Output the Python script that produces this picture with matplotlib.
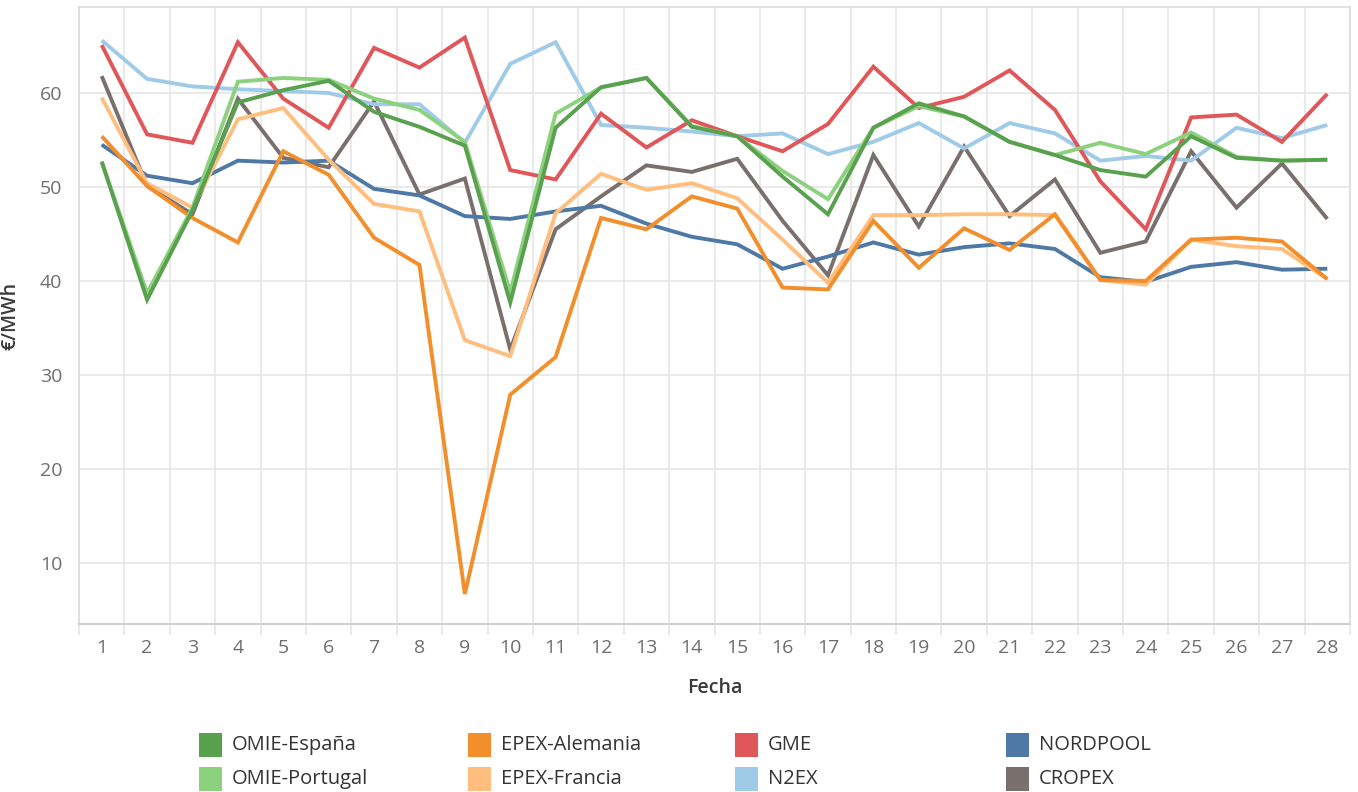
import matplotlib
matplotlib.use("Agg")
import matplotlib.pyplot as plt
from matplotlib.patches import Rectangle
import numpy as np

plt.rcParams['font.family'] = ['Open Sans', 'DejaVu Sans']

dias = list(range(1, 29))

omie_espana = [52.7, 38.0, 47.5, 59.0, 60.3, 61.3, 58.0, 56.4, 54.4, 37.7,
               56.3, 60.6, 61.6, 56.4, 55.4, 51.1, 47.1, 56.3, 58.9, 57.5,
               54.8, 53.4, 51.8, 51.1, 55.4, 53.1, 52.8, 52.9]
omie_portugal = [52.7, 38.7, 47.8, 61.2, 61.6, 61.4, 59.4, 58.2, 54.8, 38.8,
                 57.8, 60.6, 61.6, 56.5, 55.4, 51.7, 48.7, 56.3, 58.6, 57.5,
                 54.8, 53.4, 54.7, 53.5, 55.8, 53.2, 52.8, 52.9]
epex_alemania = [55.4, 50.1, 46.7, 44.1, 53.8, 51.3, 44.6, 41.7, 6.7, 27.9,
                 31.9, 46.7, 45.5, 49.0, 47.7, 39.3, 39.1, 46.4, 41.4, 45.6,
                 43.3, 47.1, 40.1, 40.0, 44.4, 44.6, 44.2, 40.2]
epex_francia = [59.5, 50.4, 47.8, 57.2, 58.4, 52.9, 48.2, 47.4, 33.7, 32.0,
                47.2, 51.4, 49.7, 50.4, 48.8, 44.4, 39.8, 47.0, 47.0, 47.1,
                47.1, 47.0, 40.1, 39.6, 44.4, 43.7, 43.4, 40.2]
gme = [65.1, 55.6, 54.7, 65.4, 59.4, 56.3, 64.8, 62.7, 65.9, 51.8,
       50.8, 57.8, 54.2, 57.1, 55.4, 53.8, 56.7, 62.8, 58.4, 59.6,
       62.4, 58.2, 50.6, 45.5, 57.4, 57.7, 54.8, 59.9]
n2ex = [65.6, 61.5, 60.7, 60.4, 60.2, 60.0, 58.8, 58.8, 54.7, 63.1,
        65.4, 56.6, 56.3, 55.9, 55.4, 55.7, 53.5, 54.8, 56.8, 54.1,
        56.8, 55.7, 52.8, 53.3, 52.8, 56.3, 55.2, 56.6]
nordpool = [54.5, 51.2, 50.4, 52.8, 52.6, 52.8, 49.8, 49.1, 46.9, 46.6,
            47.4, 48.0, 46.1, 44.7, 43.9, 41.3, 42.6, 44.1, 42.8, 43.6,
            44.0, 43.4, 40.4, 39.9, 41.5, 42.0, 41.2, 41.3]
cropex = [61.8, 50.1, 47.1, 59.4, 53.1, 52.1, 59.1, 49.2, 50.9, 32.7,
          45.5, 49.0, 52.3, 51.6, 53.0, 46.4, 40.6, 53.4, 45.8, 54.3,
          46.9, 50.8, 43.0, 44.2, 53.8, 47.8, 52.5, 46.6]

series = {
    'OMIE-España': (omie_espana, '#59a14f'),
    'OMIE-Portugal': (omie_portugal, '#8cd17d'),
    'EPEX-Alemania': (epex_alemania, '#f28e2b'),
    'EPEX-Francia': (epex_francia, '#ffbe7d'),
    'GME': (gme, '#e15759'),
    'N2EX': (n2ex, '#a0cbe8'),
    'NORDPOOL': (nordpool, '#4e79a7'),
    'CROPEX': (cropex, '#79706e'),
}
draw_order = ['CROPEX', 'N2EX', 'NORDPOOL', 'GME', 'EPEX-Francia',
              'EPEX-Alemania', 'OMIE-Portugal', 'OMIE-España']
legend_cols = [['OMIE-España', 'OMIE-Portugal'],
               ['EPEX-Alemania', 'EPEX-Francia'],
               ['GME', 'N2EX'],
               ['NORDPOOL', 'CROPEX']]

W, H = 1358, 792
fig = plt.figure(figsize=(W / 100, H / 100), dpi=100)
ax = fig.add_axes([79 / W, 1 - 624 / H, (1350 - 79) / W, (624 - 7) / H])

for name in draw_order:
    vals, col = series[name]
    ax.plot(dias, vals, color=col, lw=2.8, solid_joinstyle='miter',
            solid_capstyle='butt', zorder=3)

ax.set_xlim(0.5, 28.5)
ax.set_ylim(3.5, 69.15)
ax.set_xticks(dias)
ax.set_xticks(np.arange(0.5, 29, 1), minor=True)
ax.set_yticks([10, 20, 30, 40, 50, 60])
ax.grid(which='minor', axis='x', color='#e6e6e6', lw=1.2, zorder=0)
ax.grid(which='major', axis='y', color='#e6e6e6', lw=1.2, zorder=0)
ax.tick_params(axis='x', which='major', length=0, labelsize=14,
               labelcolor='#6e6e6e', pad=11)
ax.tick_params(axis='x', which='minor', length=8, color='#e6e6e6', width=1.2)
ax.tick_params(axis='y', length=0, labelsize=14, labelcolor='#6e6e6e', pad=12)
for side in ['top', 'right', 'left']:
    ax.spines[side].set_color('#dcdcdc')
    ax.spines[side].set_linewidth(1.2)
ax.spines['bottom'].set_color('#d0d0d0')
ax.spines['bottom'].set_linewidth(1.5)

ax.set_xlabel('Fecha', fontsize=14, color='#3a3a3a', labelpad=15,
              fontweight='semibold')
ax.set_ylabel('€/MWh', fontsize=14, color='#3a3a3a', labelpad=14,
              fontweight='semibold')

# legend: four columns of two entries
col_x = [199, 468, 735, 1006]
row_y = [733, 767]
for cx, names in zip(col_x, legend_cols):
    for ry, name in zip(row_y, names):
        fig.patches.append(Rectangle((cx / W, 1 - (ry + 24) / H), 23 / W, 24 / H,
                                     transform=fig.transFigure,
                                     facecolor=series[name][1], edgecolor='none'))
        fig.text((cx + 33) / W, 1 - (ry + 12) / H, name, fontsize=14.5,
                 color='#333333', va='center', ha='left')

fig.savefig('out.png', dpi=100, facecolor='white')
